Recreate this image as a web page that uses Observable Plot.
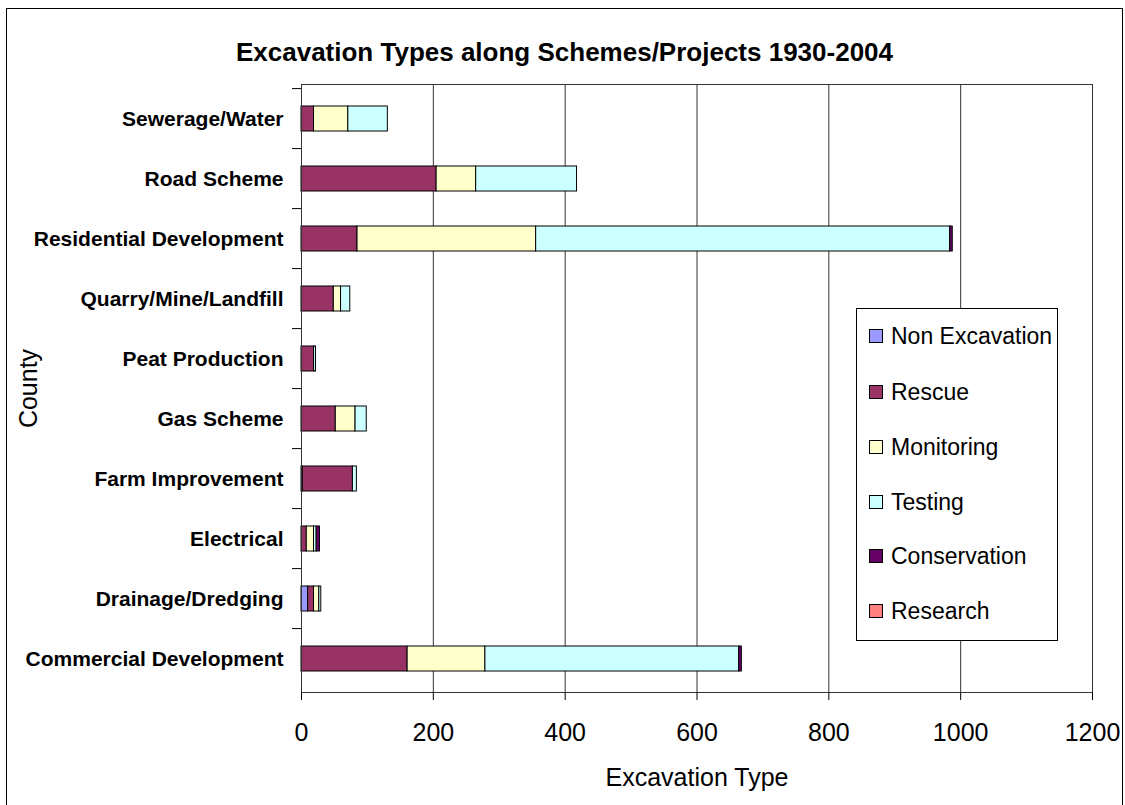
<!DOCTYPE html>
<html>
<head>
<meta charset="utf-8">
<script src="https://cdn.jsdelivr.net/npm/d3@7"></script>
<script src="https://cdn.jsdelivr.net/npm/@observablehq/plot@0.6"></script>
<style>
  html, body { margin: 0; padding: 0; background: #fff; overflow: hidden; }
  #wrap { position: relative; width: 1125px; height: 805px; font-family: Arial, "Liberation Sans", sans-serif; }
  #wrap svg { position: absolute; left: 0; top: 0; }
  #border { position: absolute; left: 6px; top: 8px; width: 1115px; height: 820px; border: 1px solid #000; pointer-events: none; }
  #title { position: absolute; left: 6px; width: 1117px; top: 37px; line-height: 30px; text-align: center; font-weight: bold; font-size: 26px; color: #000; }
  #legend { position: absolute; left: 856px; top: 308px; width: 202px; height: 333px; border: 1px solid #000; background: #fff; box-sizing: border-box; }
  .item { position: absolute; left: 12px; height: 26px; display: flex; align-items: center; font-size: 23px; color: #000; white-space: nowrap; }
  .sw { width: 12px; height: 12px; border: 1px solid #000; margin-right: 8px; }
  g[aria-label="y-axis tick label"] text { font-weight: bold; }
</style>
</head>
<body>
<div id="wrap">
  <div id="chart"></div>
  <div id="title">Excavation Types along Schemes/Projects 1930-2004</div>
  <div id="legend"></div>
  <div id="border"></div>
</div>
<script>
// Categories, top to bottom
const categories = [
  "Sewerage/Water",
  "Road Scheme",
  "Residential Development",
  "Quarry/Mine/Landfill",
  "Peat Production",
  "Gas Scheme",
  "Farm Improvement",
  "Electrical",
  "Drainage/Dredging",
  "Commercial Development"
];
const seriesNames = ["Non Excavation", "Rescue", "Monitoring", "Testing", "Conservation", "Research"];
const seriesColors = ["#9999FF", "#993366", "#FFFFCC", "#CCFFFF", "#660066", "#FF8080"];

// Values per series, aligned with categories
const nonExcavation = [0, 0, 0, 0, 0, 0, 2, 0, 10, 0];
const rescue        = [19, 205, 85, 49, 19, 52, 76, 8, 9, 161];
const monitoring    = [52, 60, 271, 11, 0, 30, 0, 11, 8, 118];
const testing       = [60, 153, 628, 14, 3, 17, 6, 4, 3, 385];
const conservation  = [0, 0, 4, 0, 0, 0, 0, 5, 0, 4];
const research      = [0, 0, 0, 0, 0, 0, 0, 0, 0, 0];

const xTicks = [0, 200, 400, 600, 800, 1000, 1200];
const gridTicks = [200, 400, 600, 800, 1000];

const seriesValues = [nonExcavation, rescue, monitoring, testing, conservation, research];
const data = [];
seriesNames.forEach((s, si) => {
  categories.forEach((c, ci) => {
    const v = seriesValues[si][ci];
    if (v > 0) data.push({category: c, type: s, value: v});
  });
});

const W = 1125, H = 805;
const mTop = 84, mBottom = 113, mLeft = 301, mRight = 33;
const step = (H - mTop - mBottom) / categories.length;

const chart = Plot.plot({
  width: W,
  height: H,
  marginTop: mTop,
  marginBottom: mBottom,
  marginLeft: mLeft,
  marginRight: mRight,
  style: {fontFamily: "Arial, 'Liberation Sans', sans-serif", fontSize: "20px", background: "transparent", color: "#000"},
  x: {domain: [0, 1200]},
  y: {domain: categories, paddingInner: 0.584, paddingOuter: 0.292},
  color: {domain: seriesNames, range: seriesColors},
  marks: [
    Plot.ruleX(gridTicks, {stroke: "#333", strokeWidth: 1}),
    Plot.barX(data, Plot.stackX({x: "value", y: "category", fill: "type", order: seriesNames, stroke: "#000", strokeWidth: 1})),
    Plot.frame({stroke: "#333", strokeWidth: 1}),
    Plot.axisY({tickSize: 0, tickPadding: 18, fontSize: 21, fontWeight: "bold", label: null}),
    Plot.axisY({tickSize: 0, text: null, label: "County", fontSize: 25, fontWeight: "normal", labelAnchor: "center", labelOffset: 282, labelArrow: "none"}),
    Plot.axisY({tickSize: 9, text: null, dy: -step / 2, label: null, stroke: "#000"}),
    Plot.axisX({ticks: xTicks, tickSize: 8, tickPadding: 23, fontSize: 25, tickFormat: d => String(d), label: "Excavation Type", labelAnchor: "center", labelOffset: 93, labelArrow: "none"})
  ]
});
document.getElementById("chart").appendChild(chart);

const legend = document.getElementById("legend");
const itemTops = [14, 70, 125, 180, 234, 289];
seriesNames.forEach((s, i) => {
  const it = document.createElement("div");
  it.className = "item";
  it.style.top = itemTops[i] + "px";
  const sw = document.createElement("span");
  sw.className = "sw";
  sw.style.background = seriesColors[i];
  const tx = document.createElement("span");
  tx.textContent = s;
  it.appendChild(sw);
  it.appendChild(tx);
  legend.appendChild(it);
});
</script>
</body>
</html>
